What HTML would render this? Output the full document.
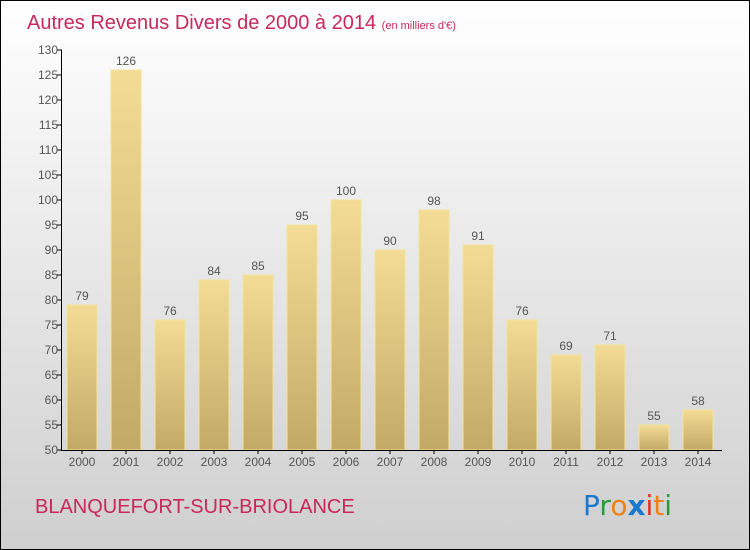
<!DOCTYPE html>
<html><head><meta charset="utf-8"><style>
html,body{margin:0;padding:0}
body{width:750px;height:550px;overflow:hidden;font-family:"Liberation Sans",sans-serif}
#wrap{position:relative;width:748px;height:548px;border:1px solid #000;background:linear-gradient(#ffffff,#cfcfcf)}
svg{position:absolute;left:0;top:0}
</style></head><body>
<div id="wrap">
<svg id="chart" width="748" height="548">
<defs><linearGradient id="bg" x1="0" y1="0" x2="0" y2="1"><stop offset="0" stop-color="#f3dc95"/><stop offset="1" stop-color="#c3a966"/></linearGradient></defs>
<text x="26" y="28" font-size="20" fill="#c8285a">Autres Revenus Divers de 2000 à 2014 <tspan font-size="11">(en milliers d'€)</tspan></text>
<text x="34" y="512" font-size="20" fill="#c8285a">BLANQUEFORT-SUR-BRIOLANCE</text>
<g font-size="28" font-family="'DejaVu Sans',sans-serif">
<text x="582" y="514"><tspan fill="#1a7ad0">P</tspan><tspan fill="#2a9a3a">r</tspan><tspan fill="#f08010">o</tspan><tspan fill="#1a7ad0" font-weight="bold">x</tspan><tspan fill="#e03020">i</tspan><tspan fill="#f08010">t</tspan><tspan fill="#2a9a3a">i</tspan></text>
</g>
</svg>
</div>
<script>
const categories=["2000","2001","2002","2003","2004","2005","2006","2007","2008","2009","2010","2011","2012","2013","2014"];
const values=[79,126,76,84,85,95,100,90,98,91,76,69,71,55,58];
const yTicks=[50,55,60,65,70,75,80,85,90,95,100,105,110,115,120,125,130];
const svg=document.getElementById('chart');
const NS='http://www.w3.org/2000/svg';
const yMin=50,yMax=130,y0=449,y1=49;
const y=v=>y0-(v-yMin)/(yMax-yMin)*(y0-y1);
const x=i=>81+i*44;
function mk(t,a){const e=document.createElementNS(NS,t);for(const k in a)e.setAttribute(k,a[k]);svg.appendChild(e);return e;}
categories.forEach((c,i)=>{
 const r=mk('rect',{x:x(i)-15,y:y(values[i]),width:30,height:y0-y(values[i]),fill:'url(#bg)',stroke:'#f5e29a','stroke-width':1});
 
 
 const t=mk('text',{x:x(i),y:y(values[i])-5,'text-anchor':'middle','font-size':12,fill:'#555'});
 t.textContent=values[i];
 
 
 const tk=mk('line',{x1:x(i),x2:x(i),y1:y0,y2:y0+4,stroke:'#000'});
 
 
 const xl=mk('text',{x:x(i),y:y0+16,'text-anchor':'middle','font-size':12,fill:'#555'});
 xl.textContent=c;
 
 
});
yTicks.forEach(v=>{
 const l=mk('line',{x1:56,x2:61,y1:y(v),y2:y(v),stroke:'#000'});
 
 
 const t=mk('text',{x:57,y:y(v)+4,'text-anchor':'end','font-size':12,fill:'#555'});
 t.textContent=v;
 
 
});
const ya=mk('line',{x1:60.5,x2:60.5,y1:y1,y2:y0+0.5,stroke:'#000'});


const xa=mk('line',{x1:60,x2:721,y1:y0+0.5,y2:y0+0.5,stroke:'#000'});


</script>
</body></html>
